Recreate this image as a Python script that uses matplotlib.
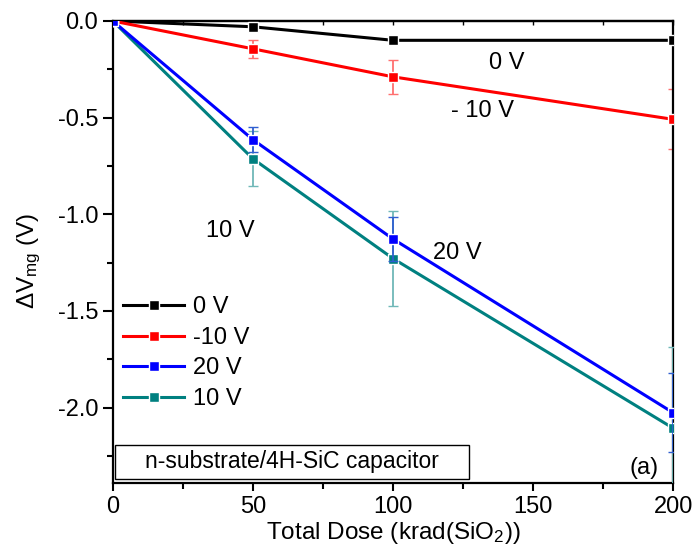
import numpy as np
import matplotlib
matplotlib.use('Agg')
import matplotlib.pyplot as plt
from matplotlib.patches import Rectangle
from matplotlib.ticker import MultipleLocator, NullFormatter

plt.rcParams['font.family'] = ['Liberation Sans', 'DejaVu Sans']
plt.rcParams['mathtext.fontset'] = 'custom'
plt.rcParams['mathtext.rm'] = 'Liberation Sans'
plt.rcParams['mathtext.it'] = 'Liberation Sans'
plt.rcParams['axes.unicode_minus'] = False

# total dose (krad(SiO2))
dose = [0, 50, 100, 200]

# delta V_mg (V) and error bars for each gate bias
v0 = [0.0, -0.03, -0.10, -0.10]
v0_err = [0.0, 0.0, 0.0, 0.0]
vm10 = [0.0, -0.144, -0.289, -0.509]
vm10_err = [0.0, 0.046, 0.088, 0.155]
v20 = [0.0, -0.614, -1.128, -2.027]
v20_err = [0.0, 0.063, 0.115, 0.205]
v10 = [0.0, -0.713, -1.229, -2.107]
v10_err = [0.0, 0.142, 0.246, 0.42]

labels = ['0 V', '-10 V', '20 V', '10 V']
colors = ['black', '#ff0000', '#0000ff', '#008080']
err_colors = ['black', '#ff7070', '#2f5fd0', '#70b8b8']
series = [v0, vm10, v20, v10]
errors = [v0_err, vm10_err, v20_err, v10_err]
zorders = [3, 3, 5, 4]

fig = plt.figure(figsize=(6.92, 5.52), dpi=100)
ax = fig.add_axes([0.163, 0.125, 0.81, 0.837])

handles = []
for y, e, lab, c, ec, z in zip(series, errors, labels, colors, err_colors, zorders):
    ax.errorbar(dose, y, yerr=e, fmt='none', ecolor=ec, elinewidth=1.3,
                capsize=3.5, capthick=1.0, zorder=z - 0.5)
    ln, = ax.plot(dose, y, color=c, linewidth=2.2, marker='s', markersize=6.5,
                  markeredgecolor='white', markeredgewidth=1.0, label=lab, zorder=z)
    handles.append(ln)

ax.set_xlim(0, 200)
ax.set_ylim(-2.39, 0)
ax.xaxis.set_major_locator(MultipleLocator(50))
ax.xaxis.set_minor_locator(MultipleLocator(25))
ax.yaxis.set_major_locator(MultipleLocator(0.5))
ax.yaxis.set_minor_locator(MultipleLocator(0.25))

for s in ax.spines.values():
    s.set_linewidth(1.6)
ax.tick_params(which='both', direction='out', width=1.5, labelsize=17)
ax.tick_params(which='major', length=6)
ax.tick_params(which='minor', length=4)
ax.tick_params(axis='y', which='major', length=7)

# small inward ticks on the top spine
top = ax.secondary_xaxis('top')
top.xaxis.set_major_locator(MultipleLocator(25))
top.xaxis.set_major_formatter(NullFormatter())
top.tick_params(direction='in', length=3, width=1.0)
top.spines['top'].set_linewidth(1.6)

ax.set_xlabel('Total Dose (krad(SiO$_2$))', fontsize=17.5, labelpad=1)
ax.set_ylabel(r'$\Delta$V$_{\rm mg}$ (V)', fontsize=17.5)
ax.yaxis.set_label_coords(-0.125, 0.48)

ax.legend(handles=handles, loc='upper left', bbox_to_anchor=(0.018, 0.404),
          frameon=False, fontsize=17, borderpad=0, borderaxespad=0,
          handlelength=2.6, handletextpad=0.35, labelspacing=0.36, numpoints=1)

# curve labels
ax.text(140.7, -0.219, '0 V', fontsize=17, ha='center', va='center')
ax.text(132, -0.465, '- 10 V', fontsize=17, ha='center', va='center')
ax.text(41.8, -1.088, '10 V', fontsize=17, ha='center', va='center')
ax.text(123, -1.20, '20 V', fontsize=17, ha='center', va='center')
ax.text(189.6, -2.31, '(a)', fontsize=17, ha='center', va='center')

# sample box
ax.add_patch(Rectangle((0.004, 0.009), 0.632, 0.073, transform=ax.transAxes,
                       facecolor='white', edgecolor='black', linewidth=1.0, zorder=6))
ax.text(0.32, 0.046, 'n-substrate/4H-SiC capacitor', transform=ax.transAxes,
        fontsize=16.5, ha='center', va='center', zorder=7)

fig.savefig('out.png', dpi=100)
